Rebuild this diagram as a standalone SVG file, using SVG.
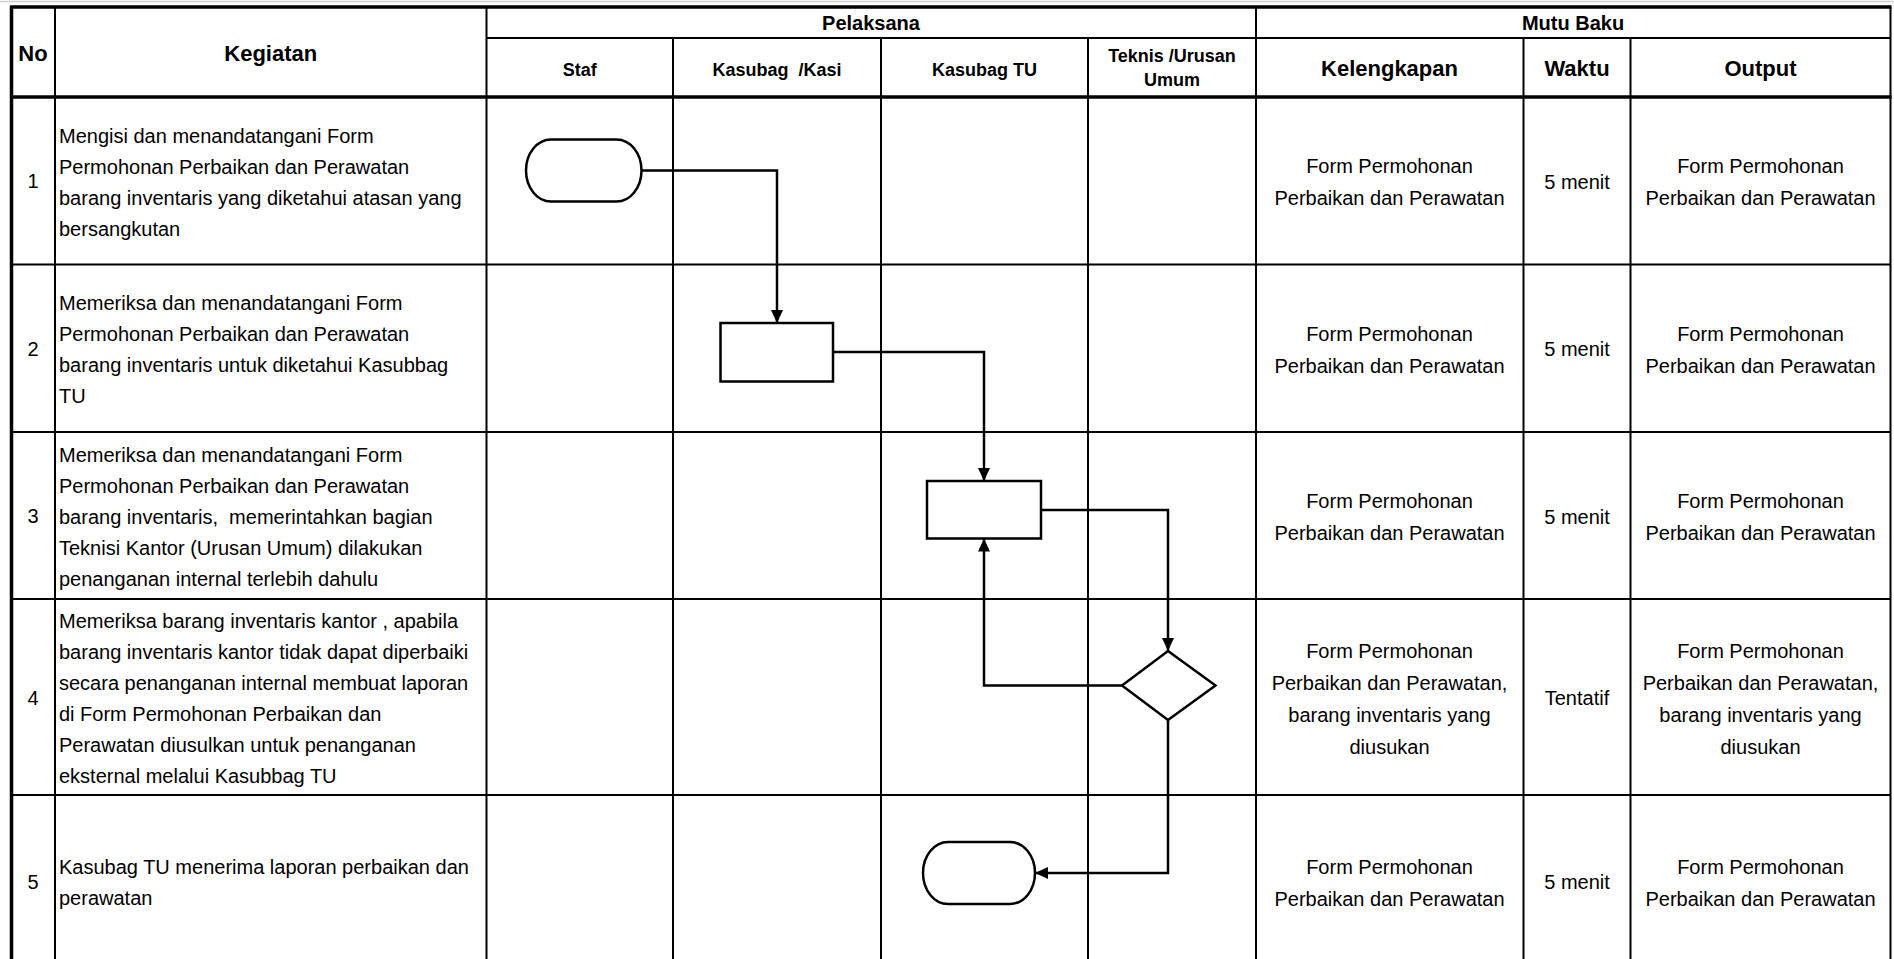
<svg xmlns="http://www.w3.org/2000/svg" width="1894" height="959" viewBox="0 0 1894 959">
<style>
.t{font-family:"Liberation Sans",Arial,Helvetica,sans-serif;font-size:20px;fill:#000}
.c{text-anchor:middle}
.h{font-weight:bold;font-size:22px}
.hm{font-weight:bold;font-size:20px}
.hs{font-weight:bold;font-size:18px}
.g line{stroke:#000;stroke-width:2}
.g .thick{stroke-width:3.5}
.shape{fill:#fff;stroke:#000;stroke-width:2.5}
.conn path{fill:none;stroke:#000;stroke-width:2.5;marker-end:url(#ah)}
</style>
<defs>
<marker id="ah" markerUnits="userSpaceOnUse" markerWidth="14" markerHeight="12" refX="13" refY="6" orient="auto">
<path d="M0,0 L13,6 L0,12 z" fill="#000"/>
</marker>
</defs>
<rect width="1894" height="959" fill="#fff"/>
<line x1="0" y1="1.5" x2="1894" y2="1.5" stroke="#d0d0d0" stroke-width="1.5"/>
<g id="grid" class="g">
<line class="thick" x1="11.5" y1="6" x2="11.5" y2="959"/>
<line x1="55" y1="7" x2="55" y2="959"/>
<line x1="486.5" y1="7" x2="486.5" y2="959"/>
<line x1="673" y1="38" x2="673" y2="959"/>
<line x1="881" y1="38" x2="881" y2="959"/>
<line x1="1088" y1="38" x2="1088" y2="959"/>
<line x1="1256" y1="7" x2="1256" y2="959"/>
<line x1="1523.5" y1="38" x2="1523.5" y2="959"/>
<line x1="1630.5" y1="38" x2="1630.5" y2="959"/>
<line x1="1890.5" y1="7" x2="1890.5" y2="959"/>
<line class="thick" x1="10" y1="7" x2="1891.5" y2="7"/>
<line x1="486.5" y1="38" x2="1890.5" y2="38"/>
<line class="thick" x1="10" y1="97" x2="1891.5" y2="97"/>
<line x1="11.5" y1="264.5" x2="1890.5" y2="264.5"/>
<line x1="11.5" y1="432" x2="1890.5" y2="432"/>
<line x1="11.5" y1="599" x2="1890.5" y2="599"/>
<line x1="11.5" y1="795" x2="1890.5" y2="795"/>
</g>
<g id="header">
<text class="t h c" x="33" y="61">No</text>
<text class="t h c" x="270.75" y="61">Kegiatan</text>
<text class="t hm c" x="871" y="30">Pelaksana</text>
<text class="t hm c" x="1573" y="30">Mutu Baku</text>
<text class="t hs c" x="579.75" y="76">Staf</text>
<text class="t hs c" x="777" y="76" xml:space="preserve">Kasubag  /Kasi</text>
<text class="t hs c" x="984.5" y="76">Kasubag TU</text>
<text class="t hs c" x="1172" y="62">Teknis /Urusan</text>
<text class="t hs c" x="1172" y="86">Umum</text>
<text class="t h c" x="1389.5" y="76">Kelengkapan</text>
<text class="t h c" x="1577" y="76">Waktu</text>
<text class="t h c" x="1760.5" y="76">Output</text>
</g>
<g id="row1">
<text class="t c" x="33" y="188">1</text>
<text class="t" x="59" y="142.75">Mengisi dan menandatangani Form</text>
<text class="t" x="59" y="173.75">Permohonan Perbaikan dan Perawatan</text>
<text class="t" x="59" y="204.75">barang inventaris yang diketahui atasan yang</text>
<text class="t" x="59" y="235.75">bersangkutan</text>
<text class="t c" x="1389.5" y="173.25">Form Permohonan</text>
<text class="t c" x="1389.5" y="205.25">Perbaikan dan Perawatan</text>
<text class="t c" x="1577" y="188.75">5 menit</text>
<text class="t c" x="1760.5" y="173.25">Form Permohonan</text>
<text class="t c" x="1760.5" y="205.25">Perbaikan dan Perawatan</text>
</g>
<g id="row2">
<text class="t c" x="33" y="356">2</text>
<text class="t" x="59" y="310.25">Memeriksa dan menandatangani Form</text>
<text class="t" x="59" y="341.25">Permohonan Perbaikan dan Perawatan</text>
<text class="t" x="59" y="372.25">barang inventaris untuk diketahui Kasubbag</text>
<text class="t" x="59" y="403.25">TU</text>
<text class="t c" x="1389.5" y="340.75">Form Permohonan</text>
<text class="t c" x="1389.5" y="372.75">Perbaikan dan Perawatan</text>
<text class="t c" x="1577" y="356">5 menit</text>
<text class="t c" x="1760.5" y="340.75">Form Permohonan</text>
<text class="t c" x="1760.5" y="372.75">Perbaikan dan Perawatan</text>
</g>
<g id="row3">
<text class="t c" x="33" y="523">3</text>
<text class="t" x="59" y="462">Memeriksa dan menandatangani Form</text>
<text class="t" x="59" y="493">Permohonan Perbaikan dan Perawatan</text>
<text class="t" x="59" y="524" xml:space="preserve">barang inventaris,  memerintahkan bagian</text>
<text class="t" x="59" y="555">Teknisi Kantor (Urusan Umum) dilakukan</text>
<text class="t" x="59" y="586">penanganan internal terlebih dahulu</text>
<text class="t c" x="1389.5" y="508">Form Permohonan</text>
<text class="t c" x="1389.5" y="540">Perbaikan dan Perawatan</text>
<text class="t c" x="1577" y="523.5">5 menit</text>
<text class="t c" x="1760.5" y="508">Form Permohonan</text>
<text class="t c" x="1760.5" y="540">Perbaikan dan Perawatan</text>
</g>
<g id="row4">
<text class="t c" x="33" y="704.5">4</text>
<text class="t" x="59" y="628">Memeriksa barang inventaris kantor , apabila</text>
<text class="t" x="59" y="659">barang inventaris kantor tidak dapat diperbaiki</text>
<text class="t" x="59" y="690">secara penanganan internal membuat laporan</text>
<text class="t" x="59" y="721">di Form Permohonan Perbaikan dan</text>
<text class="t" x="59" y="752">Perawatan diusulkan untuk penanganan</text>
<text class="t" x="59" y="783">eksternal melalui Kasubbag TU</text>
<text class="t c" x="1389.5" y="657.5">Form Permohonan</text>
<text class="t c" x="1389.5" y="689.5">Perbaikan dan Perawatan,</text>
<text class="t c" x="1389.5" y="721.5">barang inventaris yang</text>
<text class="t c" x="1389.5" y="753.5">diusukan</text>
<text class="t c" x="1577" y="705">Tentatif</text>
<text class="t c" x="1760.5" y="657.5">Form Permohonan</text>
<text class="t c" x="1760.5" y="689.5">Perbaikan dan Perawatan,</text>
<text class="t c" x="1760.5" y="721.5">barang inventaris yang</text>
<text class="t c" x="1760.5" y="753.5">diusukan</text>
</g>
<g id="row5">
<text class="t c" x="33" y="888.5">5</text>
<text class="t" x="59" y="874">Kasubag TU menerima laporan perbaikan dan</text>
<text class="t" x="59" y="905">perawatan</text>
<text class="t c" x="1389.5" y="873.5">Form Permohonan</text>
<text class="t c" x="1389.5" y="905.5">Perbaikan dan Perawatan</text>
<text class="t c" x="1577" y="889">5 menit</text>
<text class="t c" x="1760.5" y="873.5">Form Permohonan</text>
<text class="t c" x="1760.5" y="905.5">Perbaikan dan Perawatan</text>
</g>
<g id="connectors" class="conn">
<path d="M641.5,170.5 H777 V323"/>
<path d="M833,352 H984 V481"/>
<path d="M1041,510 H1168 V651"/>
<path d="M1122,685.5 H984 V538.5"/>
<path d="M1168,720 V873 H1035"/>
</g>
<g id="start-staf"><rect class="shape" x="526" y="139.5" width="115.5" height="62" rx="25" ry="31"/></g>
<g id="proc-kasi"><rect class="shape" x="720.5" y="323" width="112.5" height="58.5"/></g>
<g id="proc-kasubagtu"><rect class="shape" x="927" y="481" width="114" height="57.5"/></g>
<g id="decision-teknis"><polygon class="shape" points="1168,651 1215.5,685.5 1168,720 1122,685.5"/></g>
<g id="end-kasubagtu"><rect class="shape" x="923" y="842" width="112" height="62" rx="25" ry="31"/></g>
</svg>
